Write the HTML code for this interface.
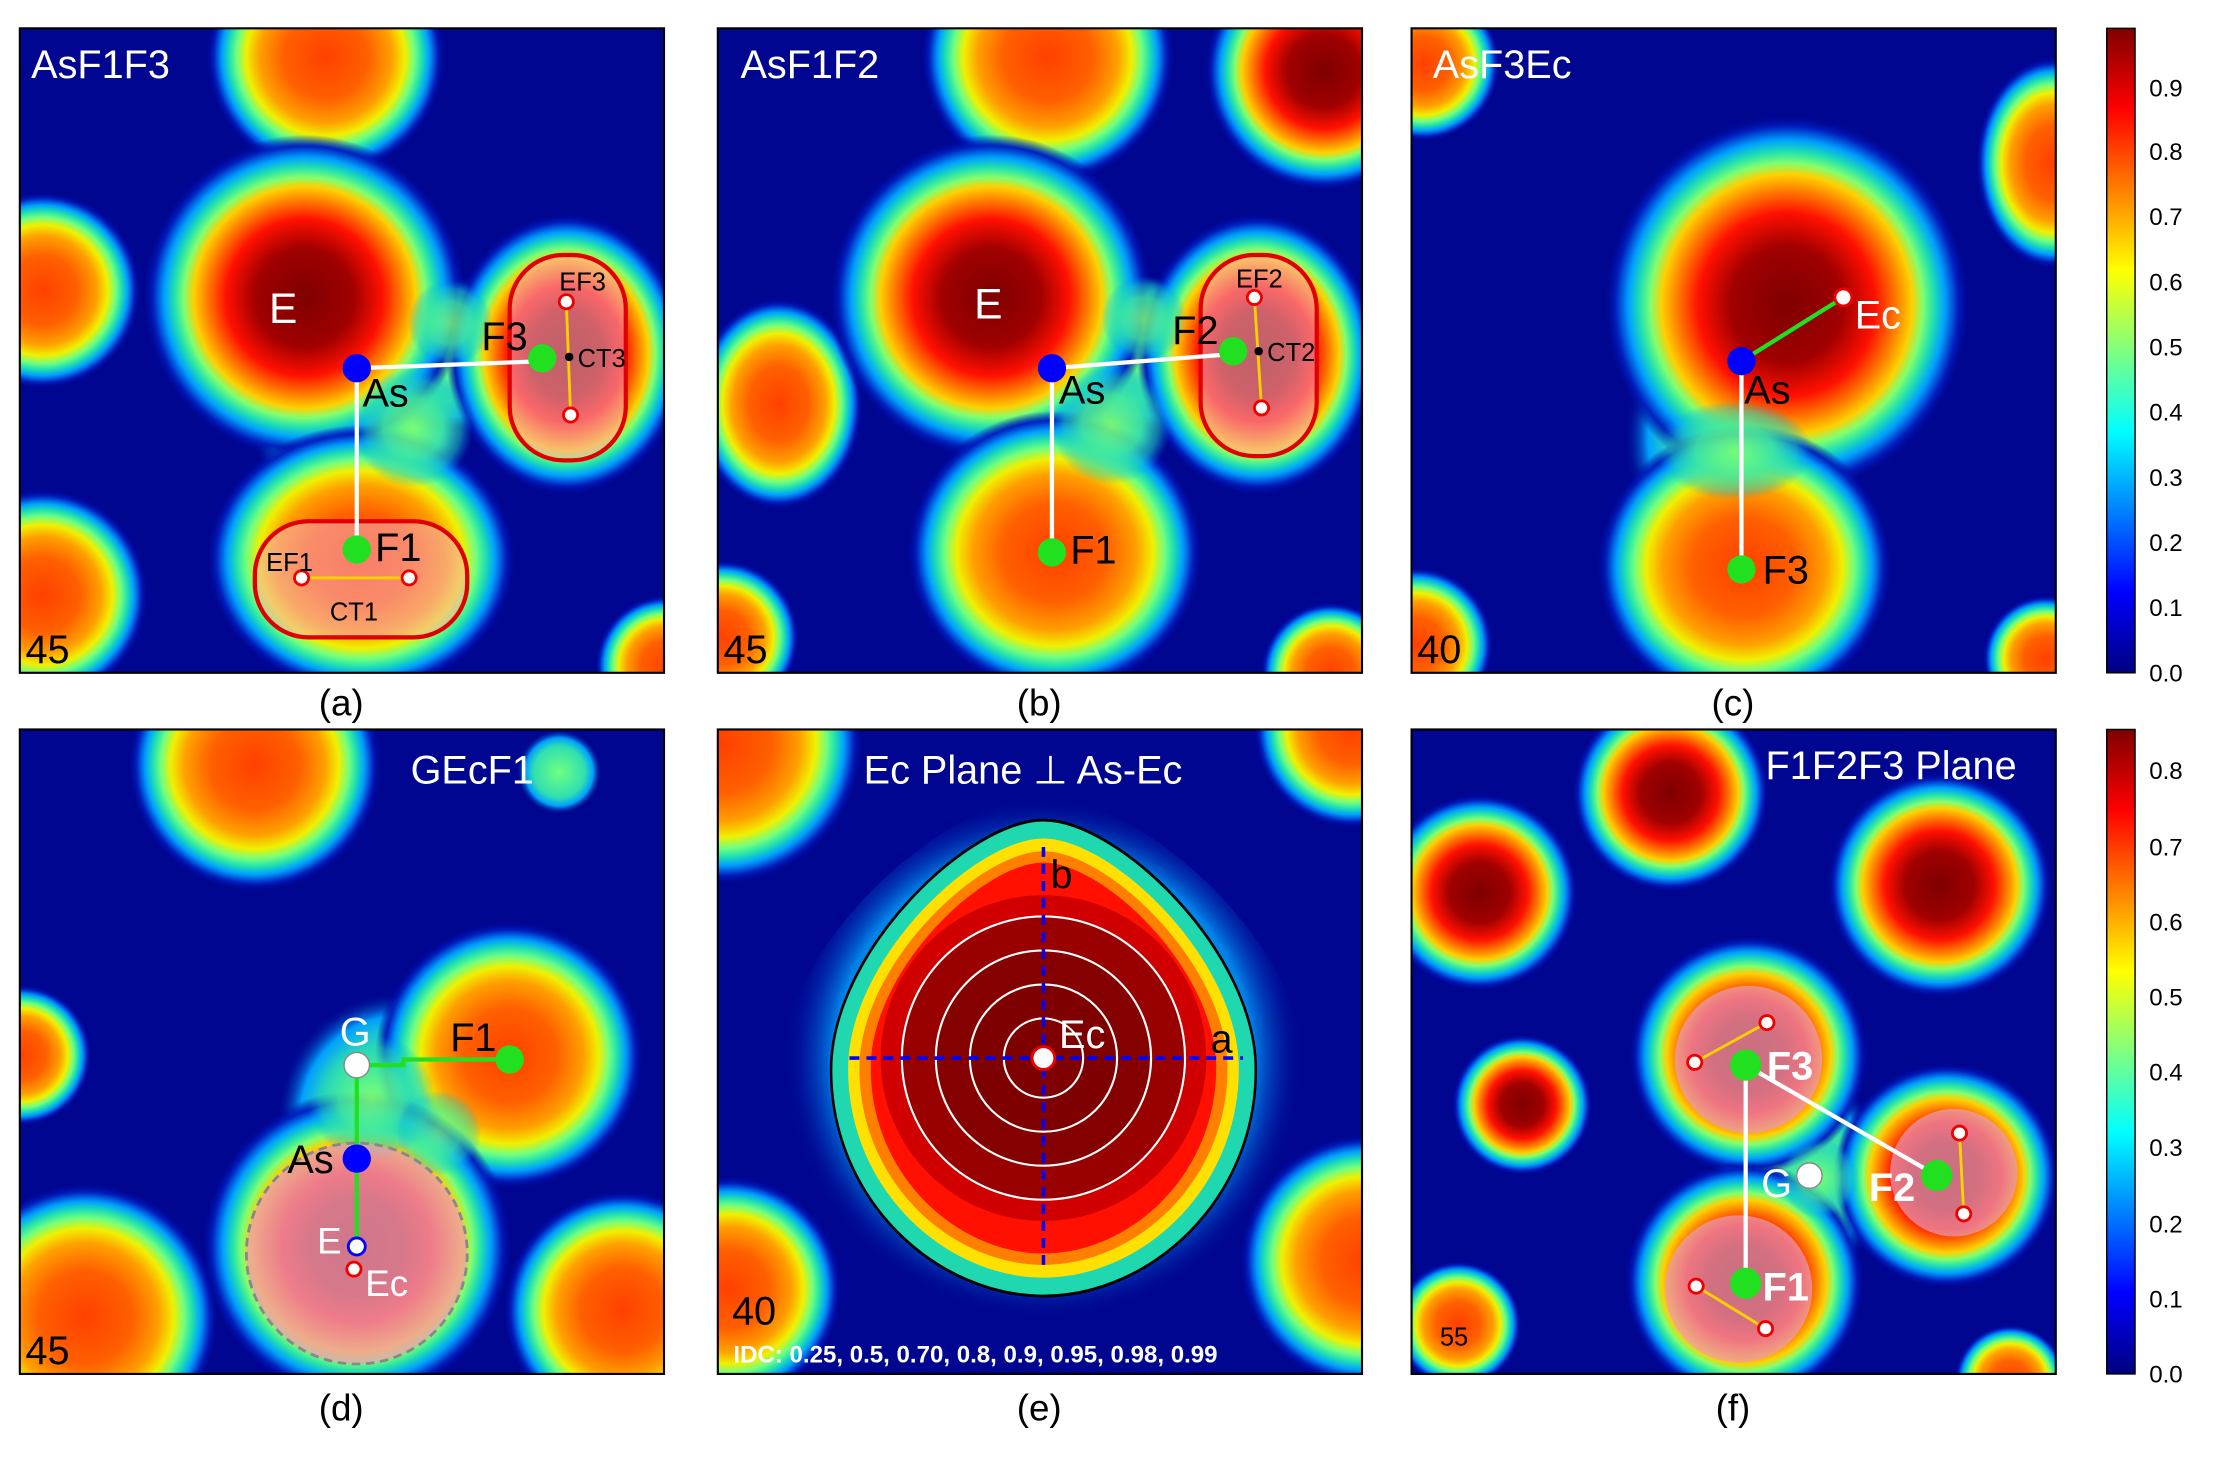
<!DOCTYPE html>
<html><head><meta charset="utf-8"><style>
html,body{margin:0;padding:0;background:#fff;}
svg{display:block;}
text{font-family:"Liberation Sans",sans-serif;}
</style></head><body>
<svg width="2220" height="1466" viewBox="0 0 1568 1035" preserveAspectRatio="none" xmlns="http://www.w3.org/2000/svg">
<defs>
<radialGradient id="R">
<stop offset="0" stop-color="#7f0000"/><stop offset="0.3" stop-color="#a00000"/><stop offset="0.48" stop-color="#ff1000"/><stop offset="0.6" stop-color="#ff8000"/><stop offset="0.68" stop-color="#ffd000"/><stop offset="0.74" stop-color="#80ff70"/><stop offset="0.8" stop-color="#20e0b0"/><stop offset="0.86" stop-color="#00a0ff"/><stop offset="0.93" stop-color="#0020c0"/><stop offset="1" stop-color="#00008f" stop-opacity="0"/>
</radialGradient>
<radialGradient id="O">
<stop offset="0" stop-color="#ff4000"/><stop offset="0.35" stop-color="#ff6000"/><stop offset="0.55" stop-color="#ffa000"/><stop offset="0.66" stop-color="#f0f000"/><stop offset="0.74" stop-color="#70ff80"/><stop offset="0.8" stop-color="#20e0b0"/><stop offset="0.86" stop-color="#00a0ff"/><stop offset="0.93" stop-color="#0020c0"/><stop offset="1" stop-color="#00008f" stop-opacity="0"/>
</radialGradient>
<radialGradient id="G">
<stop offset="0" stop-color="#70ff80"/><stop offset="0.6" stop-color="#30e0b0"/><stop offset="0.8" stop-color="#00a0ff"/><stop offset="1" stop-color="#00008f" stop-opacity="0"/>
</radialGradient>
<radialGradient id="N">
<stop offset="0" stop-color="#80ff70"/><stop offset="0.5" stop-color="#40e8a0"/><stop offset="0.8" stop-color="#20d0c0" stop-opacity="0.6"/><stop offset="1" stop-color="#00a0ff" stop-opacity="0"/>
</radialGradient>
<linearGradient id="jet" x1="0" y1="1" x2="0" y2="0">
<stop offset="0" stop-color="#00007f"/><stop offset="0.125" stop-color="#0000ff"/><stop offset="0.375" stop-color="#00ffff"/><stop offset="0.625" stop-color="#ffff00"/><stop offset="0.875" stop-color="#ff0000"/><stop offset="1" stop-color="#7f0000"/>
</linearGradient>
<clipPath id="ca"><rect x="14" y="20" width="455" height="455"/></clipPath>
<clipPath id="cb"><rect x="507" y="20" width="455" height="455"/></clipPath>
<clipPath id="cc"><rect x="997" y="20" width="455" height="455"/></clipPath>
<clipPath id="cd"><rect x="14" y="515" width="455" height="455"/></clipPath>
<clipPath id="ce"><rect x="507" y="515" width="455" height="455"/></clipPath>
<clipPath id="cf"><rect x="997" y="515" width="455" height="455"/></clipPath>
<path id="dia" d="M0,-1 C0.35,-1 1,-0.45 1,0.05 C1,0.6 0.5,1 0,1 C-0.5,1 -1,0.6 -1,0.05 C-1,-0.45 -0.35,-1 0,-1Z"/>
</defs>

<!-- Panel a -->
<g clip-path="url(#ca)">
<rect x="14" y="20" width="455" height="455" fill="#00068f"/>
<ellipse cx="252" cy="295" rx="75" ry="85" fill="url(#G)"/>
<ellipse cx="320" cy="250" rx="75" ry="55" fill="url(#G)"/>
<circle cx="230" cy="40" r="85" fill="url(#O)"/>
<circle cx="30" cy="205" r="70" fill="url(#O)"/>
<circle cx="30" cy="420" r="75" fill="url(#O)"/>
<circle cx="470" cy="470" r="50" fill="url(#O)"/>
<circle cx="215" cy="210" r="115" fill="url(#R)"/>
<ellipse cx="400" cy="250" rx="85" ry="100" fill="url(#R)"/>
<ellipse cx="255" cy="395" rx="110" ry="95" fill="url(#O)"/>
<circle cx="292" cy="302" r="42" fill="url(#N)" opacity="0.9"/>
<circle cx="318" cy="228" r="30" fill="url(#N)" opacity="0.8"/>
<rect x="360" y="180" width="82" height="145" rx="38" fill="#f4b0c0" fill-opacity="0.55" stroke="#e00000" stroke-width="3"/>
<rect x="180" y="368" width="150" height="82" rx="38" fill="#f4b0c0" fill-opacity="0.55" stroke="#e00000" stroke-width="3"/>
<line x1="252" y1="260" x2="252" y2="388" stroke="#fff" stroke-width="3"/>
<line x1="252" y1="260" x2="383" y2="255" stroke="#fff" stroke-width="3"/>
<line x1="400" y1="213" x2="403" y2="293" stroke="#ffd000" stroke-width="2"/>
<line x1="213" y1="408" x2="289" y2="408" stroke="#ffd000" stroke-width="2"/>
<circle cx="252" cy="260" r="10" fill="#0000ff"/>
<circle cx="383" cy="253" r="10" fill="#20e020"/>
<circle cx="252" cy="388" r="10" fill="#20e020"/>
<circle cx="400" cy="213" r="5" fill="#fff" stroke="#e00" stroke-width="2"/>
<circle cx="403" cy="293" r="5" fill="#fff" stroke="#e00" stroke-width="2"/>
<circle cx="213" cy="408" r="5" fill="#fff" stroke="#e00" stroke-width="2"/>
<circle cx="289" cy="408" r="5" fill="#fff" stroke="#e00" stroke-width="2"/>
<circle cx="402" cy="252" r="3" fill="#000"/>
<text x="22" y="55" font-size="28" fill="#fff">AsF1F3</text>
<text x="190" y="228" font-size="30" fill="#fff">E</text>
<text x="256" y="287" font-size="28" fill="#000">As</text>
<text x="340" y="247" font-size="28" fill="#000">F3</text>
<text x="265" y="396" font-size="28" fill="#000">F1</text>
<text x="395" y="205" font-size="18" fill="#000">EF3</text>
<text x="408" y="259" font-size="18" fill="#000">CT3</text>
<text x="188" y="403" font-size="18" fill="#000">EF1</text>
<text x="233" y="438" font-size="18" fill="#000">CT1</text>
<text x="18" y="468" font-size="28" fill="#000">45</text>
</g>
<rect x="14" y="20" width="455" height="455" fill="none" stroke="#000" stroke-width="1.5"/>

<!-- Panel b -->
<g clip-path="url(#cb)">
<rect x="507" y="20" width="455" height="455" fill="#00068f"/>
<ellipse cx="745" cy="295" rx="75" ry="85" fill="url(#G)"/>
<ellipse cx="810" cy="250" rx="75" ry="55" fill="url(#G)"/>
<circle cx="740" cy="40" r="90" fill="url(#O)"/>
<circle cx="935" cy="50" r="85" fill="url(#R)"/>
<ellipse cx="550" cy="285" rx="60" ry="75" fill="url(#O)"/>
<circle cx="510" cy="450" r="55" fill="url(#O)"/>
<circle cx="940" cy="475" r="50" fill="url(#O)"/>
<circle cx="700" cy="210" r="115" fill="url(#R)"/>
<ellipse cx="888" cy="250" rx="85" ry="100" fill="url(#R)"/>
<ellipse cx="745" cy="390" rx="105" ry="100" fill="url(#O)"/>
<circle cx="785" cy="300" r="42" fill="url(#N)" opacity="0.9"/>
<circle cx="808" cy="225" r="30" fill="url(#N)" opacity="0.8"/>
<rect x="848" y="180" width="82" height="142" rx="38" fill="#f4b0c0" fill-opacity="0.55" stroke="#e00000" stroke-width="3"/>
<line x1="743" y1="260" x2="743" y2="390" stroke="#fff" stroke-width="3"/>
<line x1="743" y1="260" x2="870" y2="250" stroke="#fff" stroke-width="3"/>
<line x1="886" y1="210" x2="891" y2="288" stroke="#ffd000" stroke-width="2"/>
<circle cx="743" cy="260" r="10" fill="#0000ff"/>
<circle cx="871" cy="248" r="10" fill="#20e020"/>
<circle cx="743" cy="390" r="10" fill="#20e020"/>
<circle cx="886" cy="210" r="5" fill="#fff" stroke="#e00" stroke-width="2"/>
<circle cx="891" cy="288" r="5" fill="#fff" stroke="#e00" stroke-width="2"/>
<circle cx="889" cy="248" r="3" fill="#000"/>
<text x="523" y="55" font-size="28" fill="#fff">AsF1F2</text>
<text x="688" y="225" font-size="30" fill="#fff">E</text>
<text x="748" y="285" font-size="28" fill="#000">As</text>
<text x="828" y="243" font-size="28" fill="#000">F2</text>
<text x="756" y="398" font-size="28" fill="#000">F1</text>
<text x="873" y="203" font-size="18" fill="#000">EF2</text>
<text x="895" y="255" font-size="18" fill="#000">CT2</text>
<text x="511" y="468" font-size="28" fill="#000">45</text>
</g>
<rect x="507" y="20" width="455" height="455" fill="none" stroke="#000" stroke-width="1.5"/>

<!-- Panel c -->
<g clip-path="url(#cc)">
<rect x="997" y="20" width="455" height="455" fill="#00068f"/>
<ellipse cx="1232" cy="310" rx="85" ry="95" fill="url(#G)"/>
<circle cx="1005" cy="45" r="55" fill="url(#O)"/>
<ellipse cx="1450" cy="115" rx="55" ry="75" fill="url(#O)"/>
<circle cx="1000" cy="455" r="55" fill="url(#O)"/>
<circle cx="1445" cy="465" r="45" fill="url(#O)"/>
<ellipse cx="1262" cy="215" rx="130" ry="135" fill="url(#R)"/>
<ellipse cx="1232" cy="400" rx="105" ry="100" fill="url(#O)"/>
<ellipse cx="1225" cy="318" rx="55" ry="35" fill="url(#N)" opacity="0.9"/>
<line x1="1230" y1="255" x2="1230" y2="402" stroke="#fff" stroke-width="3"/>
<line x1="1230" y1="255" x2="1302" y2="210" stroke="#20e020" stroke-width="3"/>
<circle cx="1230" cy="255" r="10" fill="#0000ff"/>
<circle cx="1230" cy="402" r="10" fill="#20e020"/>
<circle cx="1302" cy="210" r="6" fill="#fff" stroke="#e00" stroke-width="2"/>
<text x="1012" y="55" font-size="28" fill="#fff">AsF3Ec</text>
<text x="1310" y="232" font-size="28" fill="#fff">Ec</text>
<text x="1232" y="285" font-size="28" fill="#000">As</text>
<text x="1245" y="412" font-size="28" fill="#000">F3</text>
<text x="1001" y="468" font-size="28" fill="#000">40</text>
</g>
<rect x="997" y="20" width="455" height="455" fill="none" stroke="#000" stroke-width="1.5"/>

<!-- Panel d -->
<g clip-path="url(#cd)">
<rect x="14" y="515" width="455" height="455" fill="#00068f"/>
<ellipse cx="280" cy="790" rx="85" ry="90" fill="url(#G)"/>
<circle cx="180" cy="540" r="90" fill="url(#O)"/>
<circle cx="395" cy="545" r="30" fill="url(#G)"/>
<circle cx="15" cy="745" r="50" fill="url(#O)"/>
<circle cx="60" cy="930" r="95" fill="url(#O)"/>
<circle cx="440" cy="925" r="85" fill="url(#O)"/>
<circle cx="360" cy="745" r="95" fill="url(#O)"/>
<circle cx="252" cy="880" r="110" fill="url(#R)"/>
<circle cx="262" cy="775" r="45" fill="url(#N)" opacity="0.9"/>
<circle cx="310" cy="800" r="30" fill="url(#N)" opacity="0.7"/>
<circle cx="252" cy="885" r="78" fill="#e8a0b8" fill-opacity="0.75" stroke="#888" stroke-width="2" stroke-dasharray="6,4"/>
<line x1="252" y1="752" x2="252" y2="880" stroke="#20e020" stroke-width="3"/>
<polyline points="252,752 285,752 285,748 360,748" fill="none" stroke="#20e020" stroke-width="3"/>
<circle cx="252" cy="752" r="9" fill="#fff" stroke="#888"/>
<circle cx="252" cy="818" r="10" fill="#0000ff"/>
<circle cx="360" cy="748" r="10" fill="#20e020"/>
<circle cx="252" cy="880" r="6" fill="#fff" stroke="#00f" stroke-width="2"/>
<circle cx="250" cy="896" r="5" fill="#fff" stroke="#e00" stroke-width="2"/>
<text x="290" y="553" font-size="28" fill="#fff">GEcF1</text>
<text x="240" y="738" font-size="28" fill="#fff">G</text>
<text x="318" y="742" font-size="28" fill="#000">F1</text>
<text x="203" y="828" font-size="28" fill="#000">As</text>
<text x="224" y="885" font-size="26" fill="#fff">E</text>
<text x="258" y="915" font-size="26" fill="#fff">Ec</text>
<text x="18" y="963" font-size="28" fill="#000">45</text>
</g>
<rect x="14" y="515" width="455" height="455" fill="none" stroke="#000" stroke-width="1.5"/>

<!-- Panel e -->
<g clip-path="url(#ce)">
<rect x="507" y="515" width="455" height="455" fill="#00068f"/>
<circle cx="510" cy="525" r="100" fill="url(#O)"/>
<circle cx="955" cy="515" r="70" fill="url(#O)"/>
<circle cx="515" cy="910" r="80" fill="url(#O)"/>
<circle cx="965" cy="890" r="90" fill="url(#O)"/>
<use href="#dia" transform="translate(737,747) scale(185,185)" fill="url(#G)" opacity="0.8"/>
<use href="#dia" transform="translate(737,747) scale(150,168)" fill="#20d8b0" stroke="#000" stroke-width="0.012"/>
<use href="#dia" transform="translate(737,747) scale(138,155)" fill="#ffe000"/>
<use href="#dia" transform="translate(737,747) scale(130,146)" fill="#ff8000"/>
<use href="#dia" transform="translate(737,747) scale(122,138)" fill="#ff1000"/>
<circle cx="737" cy="747" r="115" fill="#d00000"/>
<circle cx="737" cy="747" r="100" fill="#990000" stroke="#fff" stroke-width="1.5"/>
<circle cx="737" cy="747" r="76" fill="#850000" stroke="#fff" stroke-width="1.5"/>
<circle cx="737" cy="747" r="52" fill="#7f0000" stroke="#fff" stroke-width="1.5"/>
<circle cx="737" cy="747" r="28" fill="none" stroke="#fff" stroke-width="1.5"/>
<line x1="737" y1="598" x2="737" y2="898" stroke="#0000ff" stroke-width="2.5" stroke-dasharray="7,5"/>
<line x1="600" y1="747" x2="878" y2="747" stroke="#0000ff" stroke-width="2.5" stroke-dasharray="7,5"/>
<circle cx="737" cy="747" r="8" fill="#fff" stroke="#e00" stroke-width="2"/>
<text x="610" y="553" font-size="28" fill="#fff">Ec Plane ⊥ As-Ec</text>
<text x="742" y="627" font-size="28" fill="#000">b</text>
<text x="855" y="743" font-size="28" fill="#000">a</text>
<text x="748" y="740" font-size="28" fill="#fff">Ec</text>
<text x="517" y="935" font-size="28" fill="#000">40</text>
<text x="518" y="962" font-size="17" font-weight="bold" fill="#fff">IDC: 0.25, 0.5, 0.70, 0.8, 0.9, 0.95, 0.98, 0.99</text>
</g>
<rect x="507" y="515" width="455" height="455" fill="none" stroke="#000" stroke-width="1.5"/>

<!-- Panel f -->
<g clip-path="url(#cf)">
<rect x="997" y="515" width="455" height="455" fill="#00068f"/>
<ellipse cx="1270" cy="830" rx="60" ry="80" fill="url(#G)"/>
<circle cx="1180" cy="560" r="70" fill="url(#R)"/>
<circle cx="1045" cy="630" r="70" fill="url(#R)"/>
<circle cx="1370" cy="625" r="80" fill="url(#R)"/>
<circle cx="1075" cy="780" r="50" fill="url(#R)"/>
<circle cx="1030" cy="935" r="45" fill="url(#O)"/>
<circle cx="1420" cy="975" r="40" fill="url(#O)"/>
<circle cx="1235" cy="745" r="85" fill="url(#R)"/>
<circle cx="1375" cy="830" r="80" fill="url(#R)"/>
<circle cx="1232" cy="905" r="85" fill="url(#R)"/>
<circle cx="1285" cy="832" r="28" fill="url(#N)" opacity="0.8"/>
<circle cx="1235" cy="748" r="52" fill="#e8a0b8" fill-opacity="0.7"/>
<circle cx="1380" cy="828" r="45" fill="#e8a0b8" fill-opacity="0.7"/>
<circle cx="1228" cy="910" r="52" fill="#e8a0b8" fill-opacity="0.7"/>
<line x1="1233" y1="752" x2="1233" y2="906" stroke="#fff" stroke-width="3"/>
<line x1="1233" y1="752" x2="1368" y2="830" stroke="#fff" stroke-width="3"/>
<line x1="1197" y1="750" x2="1248" y2="722" stroke="#ffd000" stroke-width="2"/>
<line x1="1384" y1="800" x2="1387" y2="857" stroke="#ffd000" stroke-width="2"/>
<line x1="1198" y1="908" x2="1247" y2="938" stroke="#ffd000" stroke-width="2"/>
<circle cx="1233" cy="752" r="11" fill="#20e020"/>
<circle cx="1368" cy="830" r="11" fill="#20e020"/>
<circle cx="1233" cy="906" r="11" fill="#20e020"/>
<circle cx="1278" cy="830" r="9" fill="#fff" stroke="#888"/>
<circle cx="1197" cy="750" r="5" fill="#fff" stroke="#e00" stroke-width="2"/>
<circle cx="1248" cy="722" r="5" fill="#fff" stroke="#e00" stroke-width="2"/>
<circle cx="1384" cy="800" r="5" fill="#fff" stroke="#e00" stroke-width="2"/>
<circle cx="1387" cy="857" r="5" fill="#fff" stroke="#e00" stroke-width="2"/>
<circle cx="1198" cy="908" r="5" fill="#fff" stroke="#e00" stroke-width="2"/>
<circle cx="1247" cy="938" r="5" fill="#fff" stroke="#e00" stroke-width="2"/>
<text x="1247" y="550" font-size="28" fill="#fff">F1F2F3 Plane</text>
<text x="1248" y="762" font-size="28" font-weight="bold" fill="#fff">F3</text>
<text x="1320" y="848" font-size="28" font-weight="bold" fill="#fff">F2</text>
<text x="1245" y="918" font-size="28" font-weight="bold" fill="#fff">F1</text>
<text x="1244" y="845" font-size="28" fill="#fff">G</text>
<text x="1017" y="950" font-size="18" fill="#000">55</text>
</g>
<rect x="997" y="515" width="455" height="455" fill="none" stroke="#000" stroke-width="1.5"/>

<!-- captions -->
<g font-size="26" fill="#000" text-anchor="middle">
<text x="241" y="505">(a)</text><text x="734" y="505">(b)</text><text x="1224" y="505">(c)</text>
<text x="241" y="1003">(d)</text><text x="734" y="1003">(e)</text><text x="1224" y="1003">(f)</text>
</g>

<!-- colorbars -->
<rect x="1488" y="20" width="20" height="455" fill="url(#jet)" stroke="#000" stroke-width="1"/>
<g font-size="17" fill="#000">
<text x="1518" y="481">0.0</text><text x="1518" y="435">0.1</text><text x="1518" y="389">0.2</text><text x="1518" y="343">0.3</text><text x="1518" y="297">0.4</text><text x="1518" y="251">0.5</text><text x="1518" y="205">0.6</text><text x="1518" y="159">0.7</text><text x="1518" y="113">0.8</text><text x="1518" y="68">0.9</text>
</g>
<rect x="1488" y="515" width="20" height="455" fill="url(#jet)" stroke="#000" stroke-width="1"/>
<g font-size="17" fill="#000">
<text x="1518" y="976">0.0</text><text x="1518" y="923">0.1</text><text x="1518" y="870">0.2</text><text x="1518" y="816">0.3</text><text x="1518" y="763">0.4</text><text x="1518" y="710">0.5</text><text x="1518" y="657">0.6</text><text x="1518" y="604">0.7</text><text x="1518" y="550">0.8</text>
</g>
</svg>
</body></html>
